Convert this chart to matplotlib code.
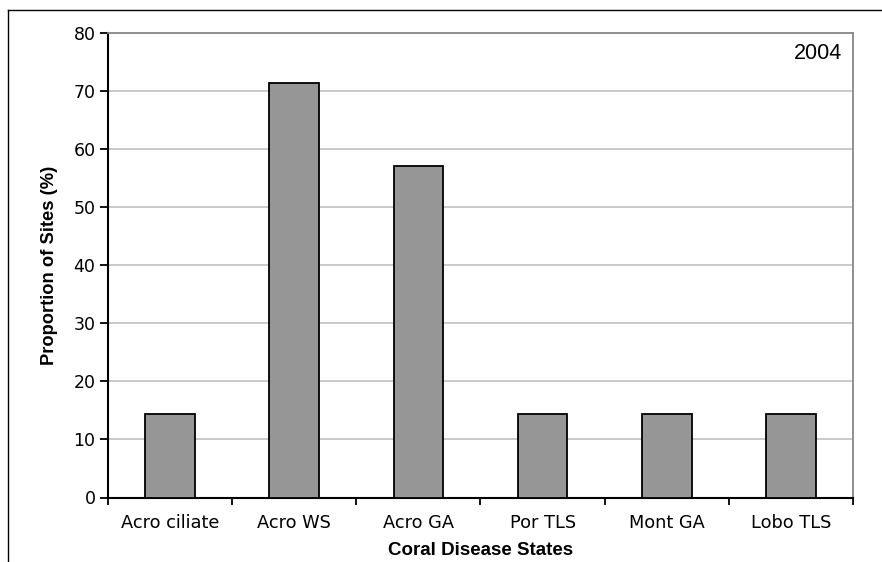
import matplotlib
matplotlib.use('Agg')
import matplotlib.pyplot as plt
from matplotlib.lines import Line2D
import numpy as np

categories = ['Acro ciliate', 'Acro WS', 'Acro GA', 'Por TLS', 'Mont GA', 'Lobo TLS']
values = [14.3, 71.4, 57.1, 14.3, 14.3, 14.3]
year = '2004'

fig = plt.figure(figsize=(8.82, 5.62), dpi=100)
ax = fig.add_axes([108/882, 1 - 497.5/562, (853 - 108)/882, (497.5 - 33)/562])

x = np.arange(len(categories))
ax.bar(x, values, width=0.4, color='#969696', edgecolor='black', linewidth=1.3, zorder=3)

ax.set_xlim(-0.5, len(categories) - 0.5)
ax.set_ylim(0, 80)
ax.set_yticks(np.arange(0, 81, 10))
ax.yaxis.grid(True, color='#c0c0c0', linewidth=1.2, zorder=0)

ax.set_xticks(x)
ax.set_xticklabels(categories, fontsize=12.8, family='DejaVu Sans')
ax.set_xticks(np.arange(-0.5, len(categories)), minor=True)
ax.tick_params(axis='x', which='major', length=0, pad=12)
ax.tick_params(axis='x', which='minor', length=5, width=1.3, direction='out')
ax.tick_params(axis='y', length=6, width=1.3, labelsize=12.5, pad=3)
for lab in ax.get_yticklabels():
    lab.set_family('DejaVu Sans')

for s in ['left', 'bottom']:
    ax.spines[s].set_color('black')
    ax.spines[s].set_linewidth(1.5)
for s in ['top', 'right']:
    ax.spines[s].set_color('#888888')
    ax.spines[s].set_linewidth(1.3)

ax.set_xlabel('Coral Disease States', family='Liberation Sans', fontweight='bold',
              fontsize=13.5, labelpad=7)
ax.set_ylabel('Proportion of Sites (%)', family='Liberation Sans', fontweight='bold',
              fontsize=13.2, labelpad=11)

ax.text(0.985, 0.978, year, transform=ax.transAxes, ha='right', va='top',
        family='Liberation Sans', fontsize=15.5)

# outer frame (left and top edges visible)
fig.add_artist(Line2D([8/882, 8/882], [0, 1 - 10/562], color='black', linewidth=1.0,
                      transform=fig.transFigure))
fig.add_artist(Line2D([8/882, 1], [1 - 10/562, 1 - 10/562], color='black', linewidth=1.0,
                      transform=fig.transFigure))

fig.savefig('out.png', dpi=100)
